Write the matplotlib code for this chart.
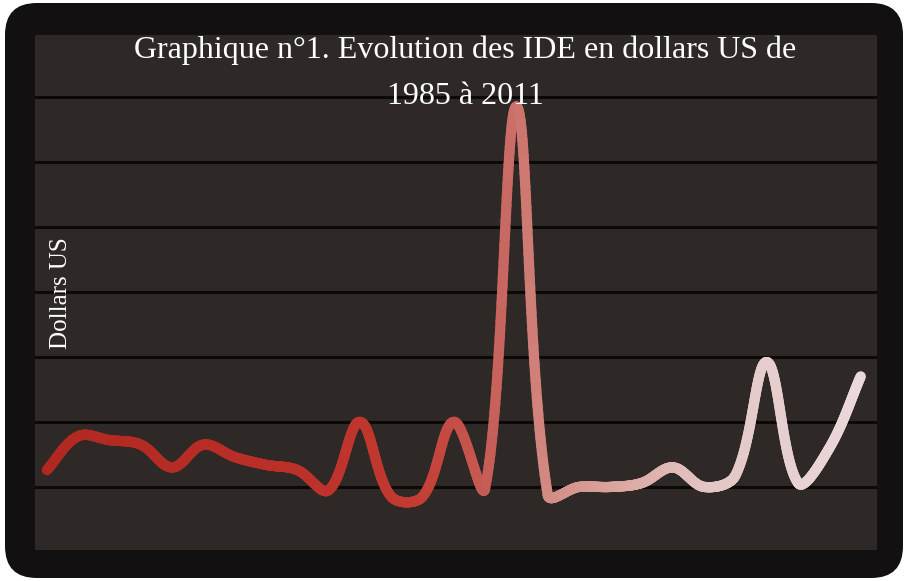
import numpy as np
import matplotlib
matplotlib.use("Agg")
import matplotlib.pyplot as plt
from matplotlib.collections import LineCollection
from matplotlib.colors import LinearSegmentedColormap
from matplotlib.patches import FancyBboxPatch

# ---- data ----
years = list(range(1985, 2012))
ide_values = [1.26, 1.78, 1.72, 1.65, 1.30, 1.65, 1.46, 1.34, 1.26, 0.95,
              2.00, 0.85, 0.85, 2.00, 0.98, 6.85, 0.88, 1.00, 1.00, 1.06,
              1.30, 1.00, 1.18, 2.92, 1.06, 1.60, 2.70]
title_line1 = "Graphique n°1. Evolution des IDE en dollars US de"
title_line2 = "1985 à 2011"
ylabel = "Dollars US"

W, H = 908, 581
fig = plt.figure(figsize=(W / 100, H / 100), dpi=100)
fig.patch.set_facecolor("white")

# outer dark rounded frame
frame = FancyBboxPatch((5 / W, 3 / H), 898 / W, 575 / H,
                       boxstyle="round,pad=0,rounding_size=0.035",
                       transform=fig.transFigure, facecolor="#121010",
                       edgecolor="none", mutation_aspect=W / H, zorder=-5)
fig.patches.append(frame)

ax = fig.add_axes([35 / W, (H - 550) / H, (877 - 35) / W, (550 - 35) / H])
ax.set_zorder(5)
ax.set_facecolor("#2e2926")
for s in ax.spines.values():
    s.set_visible(False)

ax.set_xlim(1984.62, 2011.52)
ax.set_ylim(0.03, 7.95)
ax.set_yticks(range(1, 8))
ax.set_xticks([])
ax.tick_params(left=False, labelleft=False)
ax.grid(axis="y", color="#0c0a09", linewidth=2.2)
ax.set_axisbelow(True)

# smoothed (Bezier) display of the series, tangents weighted by chord length
x = np.array(years, dtype=float)
y = np.array(ide_values, dtype=float)
sx, sy = 31.3, 65.0  # display scale (px per unit) used for chord lengths
P = np.column_stack([x * sx, y * sy])
n = len(P)
tension = 0.36
cin = P.copy()
cout = P.copy()
for i in range(1, n - 1):
    v = P[i + 1] - P[i - 1]
    L1 = np.linalg.norm(P[i] - P[i - 1])
    L2 = np.linalg.norm(P[i + 1] - P[i])
    cout[i] = P[i] + v * tension * L2 / (L1 + L2)
    cin[i] = P[i] - v * tension * L1 / (L1 + L2)
cout[0] = P[0] + (P[1] - P[0]) * 0.3
cin[-1] = P[-1] - (P[-1] - P[-2]) * 0.3
tt = np.linspace(0, 1, 60, endpoint=False)[:, None]
curve = []
for i in range(n - 1):
    a, b, c, d = P[i], cout[i], cin[i + 1], P[i + 1]
    curve.append((1 - tt) ** 3 * a + 3 * (1 - tt) ** 2 * tt * b +
                 3 * (1 - tt) * tt ** 2 * c + tt ** 3 * d)
curve.append(P[-1][None, :])
curve = np.vstack(curve)
xs = curve[:, 0] / sx
ys = curve[:, 1] / sy

cmap = LinearSegmentedColormap.from_list("ide", [
    (0.00, "#b0281f"), (0.30, "#bb3029"), (0.45, "#c23a30"),
    (0.55, "#c6605a"), (0.62, "#d48d86"), (0.72, "#dcaaa4"),
    (0.82, "#e3c6c6"), (1.00, "#ead8da")])
pts = np.column_stack([xs, ys]).reshape(-1, 1, 2)
segs = np.concatenate([pts[:-1], pts[1:]], axis=1)
lc = LineCollection(segs, cmap=cmap, linewidths=7.4, capstyle="round",
                    joinstyle="round", zorder=3)
lc.set_array((xs[:-1] - x[0]) / (x[-1] - x[0]))
lc.set_clim(0, 1)
ax.add_collection(lc)

serif = ["Liberation Serif", "DejaVu Serif"]
fig.text(465 / W, 1 - 50 / H, title_line1, ha="center", va="center",
         color="white", fontsize=23, family=serif, zorder=10)
fig.text(465 / W, 1 - 97 / H, title_line2, ha="center", va="center",
         color="white", fontsize=23, family=serif, zorder=10)
fig.text(61 / W, 1 - 293 / H, ylabel, ha="center", va="center",
         rotation=90, color="white", fontsize=18, family=serif, zorder=10)

fig.savefig("out.png", dpi=100, facecolor=fig.get_facecolor())
